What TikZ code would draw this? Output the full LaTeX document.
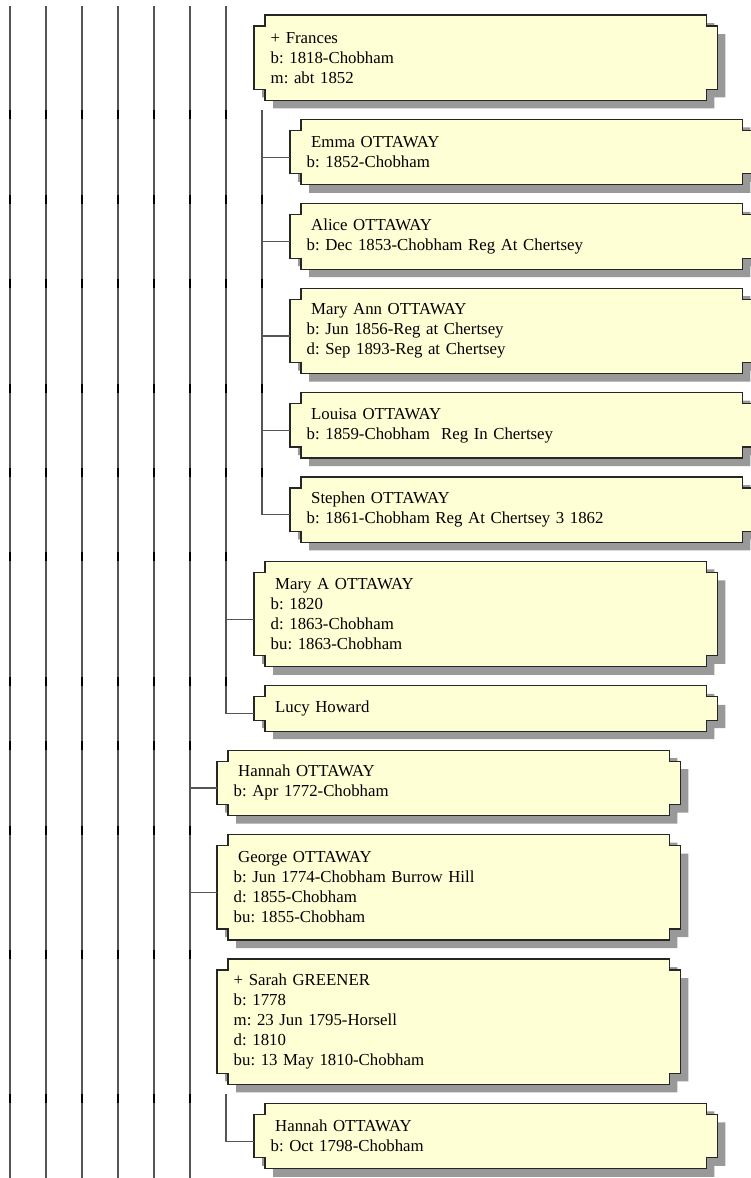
\documentclass[tikz,border=0pt]{standalone}
\usepackage{fontspec}
\setmainfont{Liberation Serif}
\usetikzlibrary{positioning,calc,backgrounds}
\definecolor{boxfill}{RGB}{255,255,213}
\definecolor{shadowgray}{RGB}{153,153,153}
\definecolor{linkgray}{RGB}{85,85,85}
\frenchspacing

\newcommand{\lsp}{\hspace*{4.5pt}}
% notched outline of a box, #2 = shadow offset
\newcommand{\notch}[2]{($(#1.north west)+(11+#2,-#2)$) -- ($(#1.north east)+(-11+#2,-#2)$) -- ++(0,-11) -- ++(11,0)
  -- ($(#1.south east)+(#2,11-#2)$) -- ++(-11,0) -- ++(0,-11) -- ($(#1.south west)+(11+#2,-#2)$) -- ++(0,11) -- ++(-11,0)
  -- ($(#1.north west)+(#2,-11-#2)$) -- ++(11,0) -- cycle}

\begin{document}
\begin{tikzpicture}[
    x=1pt, y=1pt,
    person/.style={anchor=north west, minimum height=#1, text width=430pt, inner xsep=16.5pt, inner ysep=0pt,
        align=left, font=\fontsize{16.8}{20}\selectfont},
    link/.style={draw=linkgray, line width=1.2pt},
    tick/.style={draw=black, line width=1.2pt},
    outline/.style={draw=black!85, line width=1.2pt, fill=boxfill}
]
\useasboundingbox (0,0) rectangle (751,-1178);
\coordinate (treetop) at (0,-6);
\coordinate (treebot) at (0,-1178);

\node[person=85pt] (frances) at (254,-15) {+ Frances\\b: 1818-Chobham\\m: abt 1852};
\node[person=65pt, below right=19pt and 36pt of frances.south west] (emma) {\lsp Emma OTTAWAY\\b: 1852-Chobham};
\node[person=65pt, below right=19pt and 0pt of emma.south west] (alice) {\lsp Alice OTTAWAY\\b: Dec 1853-Chobham Reg At Chertsey};
\node[person=85pt, below right=19pt and 0pt of alice.south west] (maryann) {\lsp Mary Ann OTTAWAY\\b: Jun 1856-Reg at Chertsey\\d: Sep 1893-Reg at Chertsey};
\node[person=65pt, below right=19pt and 0pt of maryann.south west] (louisa) {\lsp Louisa OTTAWAY\\b: 1859-Chobham\ \ Reg In Chertsey};
\node[person=65pt, below right=19pt and 0pt of louisa.south west] (stephen) {\lsp Stephen OTTAWAY\\b: 1861-Chobham Reg At Chertsey 3 1862};
\node[person=105pt, below right=19pt and -36pt of stephen.south west] (marya) {\lsp Mary A OTTAWAY\\b: 1820\\d: 1863-Chobham\\bu: 1863-Chobham};
\node[person=45pt, below right=19pt and 0pt of marya.south west] (lucy) {\lsp Lucy Howard};
\node[person=65pt, below right=19pt and -37pt of lucy.south west] (hannah) {\lsp Hannah OTTAWAY\\b: Apr 1772-Chobham};
\node[person=105pt, below right=19pt and 0pt of hannah.south west] (george) {\lsp George OTTAWAY\\b: Jun 1774-Chobham Burrow Hill\\d: 1855-Chobham\\bu: 1855-Chobham};
\node[person=125pt, below right=19pt and 0pt of george.south west] (sarah) {+ Sarah GREENER\\b: 1778\\m: 23 Jun 1795-Horsell\\d: 1810\\bu: 13 May 1810-Chobham};
\node[person=65pt, below right=19pt and 37pt of sarah.south west] (hannahb) {\lsp Hannah OTTAWAY\\b: Oct 1798-Chobham};

\coordinate[below right=10pt and 8pt of frances.south west] (fkids);
\coordinate[below right=10pt and 9pt of sarah.south west] (skids);

\begin{scope}[on background layer]
\fill[white] (0,0) rectangle (751,-1178);
\foreach \n in {frances,emma,alice,maryann,louisa,stephen,marya,lucy,hannah,george,sarah,hannahb} {
    \fill[shadowgray] \notch{\n}{8};
    \path[outline] \notch{\n}{0};
}
\end{scope}

\foreach \x in {10,46,...,190}
    \draw[link] (\x,0 |- treetop) -- (\x,0 |- treebot);
\foreach \n in {marya,lucy}
    \draw[link] (226,0 |- treetop) |- ([yshift=-5pt]\n.west);
\foreach \n in {hannah,george}
    \draw[link] (190,0 |- treetop) |- ([yshift=-5pt]\n.west);
\foreach \n in {emma,alice,maryann,louisa,stephen}
    \draw[link] (fkids) |- ([yshift=-5pt]\n.west);
\draw[link] (skids) |- ([yshift=-5pt]hannahb.west);

\foreach \n/\cols in {emma/{10,46,...,226}, alice/{10,46,...,262}, maryann/{10,46,...,262},
    louisa/{10,46,...,262}, stephen/{10,46,...,262}, marya/{10,46,...,226}, lucy/{10,46,...,226},
    hannah/{10,46,...,190}, george/{10,46,...,190}, sarah/{10,46,...,190}, hannahb/{10,46,...,190}}
    \foreach \x in \cols
        \draw[tick] ([yshift=9pt]\x,0 |- \n.north) -- (\x,0 |- \n.north);
\end{tikzpicture}
\end{document}
